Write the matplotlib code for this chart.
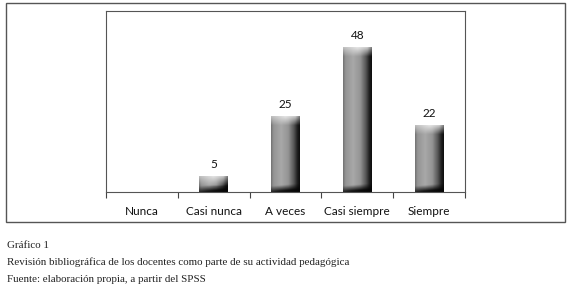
import numpy as np
import matplotlib
matplotlib.use("Agg")
import matplotlib.pyplot as plt
from matplotlib.patches import Rectangle

categories = ["Nunca", "Casi nunca", "A veces", "Casi siempre", "Siempre"]
values = [0, 5, 25, 48, 22]
labels = ["", "5", "25", "48", "22"]
caption = ["Gráfico 1",
           "Revisión bibliográfica de los docentes como parte de su actividad pedagógica",
           "Fuente: elaboración propia, a partir del SPSS"]

W, H = 580, 287
fig = plt.figure(figsize=(W / 100, H / 100), dpi=100)

# outer frame
fig.add_artist(Rectangle((6 / W, 1 - 222 / H), (565 - 6) / W, (222 - 3) / H,
                         transform=fig.transFigure, fill=False, lw=1.0, ec="#555555"))

ax = fig.add_axes([106 / W, 1 - 192 / H, (465 - 106) / W, (192 - 11) / H])
ymax = 60
bw = 0.4

# horizontal profile for bars
nx = 60
t = np.linspace(0, 1, nx)
prof = np.interp(t, [0, 0.08, 0.35, 0.6, 0.8, 0.92, 1.0],
                 [0.45, 0.58, 0.66, 0.58, 0.33, 0.12, 0.05])

for i, v in enumerate(values):
    if v <= 0:
        continue
    x0, x1 = i - bw / 2, i + bw / 2
    ny = 200
    yy = np.linspace(v, 0, ny)  # top to bottom
    img = np.tile(prof, (ny, 1))
    cap = 3.0
    bot = 2.8
    for r, yv in enumerate(yy):
        if yv > v - cap:
            f = (yv - (v - cap)) / cap
            capcol = np.interp(t, [0, 0.5, 0.85, 1.0], [0.75, 0.9, 0.8, 0.5])
            img[r] = np.clip(prof * (1 - f) + capcol * f, 0, 1)
        elif yv < bot:
            f = 1 - yv / bot
            dark = np.interp(t, [0, 0.3, 0.6, 1.0], [0.15, 0.08, 0.05, 0.02])
            g = np.clip((f - 0.3 * (1 - t)) / 0.7, 0, 1)
            img[r] = prof * (1 - g) + dark * g
    rgb = np.dstack([img, img, img])
    ax.imshow(rgb, extent=[x0, x1, 0, v], aspect="auto", interpolation="bilinear", zorder=2)
    ax.text(i, v + 2.2, labels[i], ha="center", va="bottom", fontsize=8.5,
            family="Lato", color="#111111")

ax.set_xlim(-0.5, len(categories) - 0.5)
ax.set_ylim(0, ymax)
ax.set_yticks([])
ax.set_xticks(range(len(categories)))
ax.set_xticklabels(categories, fontsize=8.5, family="Lato", color="#111111")
ax.tick_params(axis="x", which="major", length=0, pad=10)
ax.set_xticks(np.arange(-0.5, len(categories), 1.0), minor=True)
ax.tick_params(axis="x", which="minor", length=4.5, width=0.8, direction="out", color="#444444")
for s in ["left", "top", "bottom", "right"]:
    ax.spines[s].set_color("#555555")
    ax.spines[s].set_linewidth(0.8)

ys = [246, 262, 279]
for txt, y in zip(caption, ys):
    fig.text(7 / W, 1 - y / H, txt, fontsize=7.9, family="Liberation Serif",
             ha="left", va="center", color="#222222")

fig.savefig("out.png", dpi=100)
